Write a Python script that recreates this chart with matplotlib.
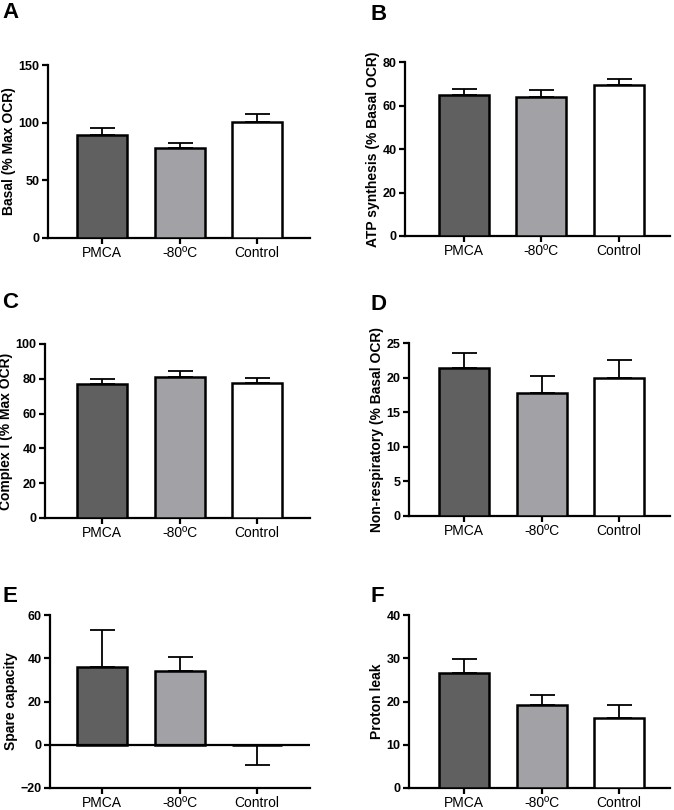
import numpy as np
import matplotlib
matplotlib.use("Agg")
import matplotlib.pyplot as plt

plt.rcParams['font.family'] = ['Liberation Sans', 'DejaVu Sans']

# grupos y colores
grupos = ['PMCA', '-80ºC', 'Control']
colores = ['#606060', '#a2a2a6', '#ffffff']

# valores medios y error (SEM) por panel
basal = [89.3, 77.7, 100.9]
basal_err = [6.4, 4.4, 6.9]
atp = [65.0, 64.0, 69.4]
atp_err = [2.6, 3.3, 2.6]
complejo1 = [76.8, 81.2, 77.7]
complejo1_err = [3.0, 3.1, 2.5]
no_resp = [21.4, 17.8, 20.0]
no_resp_err = [2.1, 2.5, 2.6]
reserva = [35.8, 34.0, -0.3]
reserva_err = [17.3, 6.6, 9.1]
fuga = [26.5, 19.2, 16.3]
fuga_err = [3.3, 2.3, 2.8]

paneles = [
    ('A', basal, basal_err, 'Basal (% Max OCR)', [0, 50, 100, 150], (0, 150)),
    ('B', atp, atp_err, 'ATP synthesis (% Basal OCR)', [0, 20, 40, 60, 80], (0, 80)),
    ('C', complejo1, complejo1_err, 'Complex I (% Max OCR)', [0, 20, 40, 60, 80, 100], (0, 100)),
    ('D', no_resp, no_resp_err, 'Non-respiratory (% Basal OCR)', [0, 5, 10, 15, 20, 25], (0, 25)),
    ('E', reserva, reserva_err, 'Spare capacity', [-20, 0, 20, 40, 60], (-20, 60)),
    ('F', fuga, fuga_err, 'Proton leak', [0, 10, 20, 30, 40], (0, 40)),
]

# posiciones en pixeles: (izq, der, abajo, arriba, centro primera barra)
W, H = 674, 810
cajas = [
    (48, 310, 238, 65, 102),
    (405, 670, 236, 62, 463.5),
    (45, 310, 518, 344, 102),
    (409, 670, 516, 343, 464),
    (50, 310, 788, 615, 102),
    (409, 670, 788, 615, 464),
]
# posicion de las letras de panel
letras = [(2, 13), (370, 15), (2, 303), (370, 305), (2, 597), (370, 597)]

fig = plt.figure(figsize=(W / 100, H / 100), dpi=100)
paso = 77.5
ancho_barra = 50 / paso
x = np.arange(3)

for (letra, vals, errs, ylab, ticks, lim), caja, pos in zip(paneles, cajas, letras):
    izq, der, abajo, arriba, c0 = caja
    ax = fig.add_axes([izq / W, 1 - abajo / H, (der - izq) / W, (abajo - arriba) / H])
    vals = np.array(vals)
    errs = np.array(errs)
    ax.bar(x, vals, width=ancho_barra, color=colores, edgecolor='black', linewidth=1.8, zorder=3)
    # error solo en la direccion de la barra
    arriba_e = np.where(vals >= 0, errs, 0)
    abajo_e = np.where(vals < 0, errs, 0)
    ax.errorbar(x, vals, yerr=[abajo_e, arriba_e], fmt='none', ecolor='black',
                elinewidth=1.3, capsize=9, capthick=1.3, zorder=2)
    ax.set_xlim(-(c0 - izq) / paso, -(c0 - izq) / paso + (der - izq) / paso)
    ax.set_ylim(*lim)
    ax.set_yticks(ticks)
    ax.set_xticks(x)
    ax.set_xticklabels(grupos, fontsize=10)
    for t in ax.get_yticklabels():
        t.set_fontweight('bold')
        t.set_fontsize(9)
    ax.set_ylabel(ylab, fontsize=10, fontweight='bold', labelpad=2)
    ax.spines['top'].set_visible(False)
    ax.spines['right'].set_visible(False)
    ax.spines['left'].set_linewidth(1.6)
    ax.spines['bottom'].set_linewidth(1.6)
    ax.tick_params(axis='both', width=1.6, length=4, pad=2)
    if lim[0] < 0:
        ax.axhline(0, color='black', linewidth=1.6, zorder=4)
    fig.text(pos[0] / W, 1 - pos[1] / H, letra, fontsize=16, fontweight='bold',
             va='center', ha='left')

fig.savefig('out.png', dpi=100)
